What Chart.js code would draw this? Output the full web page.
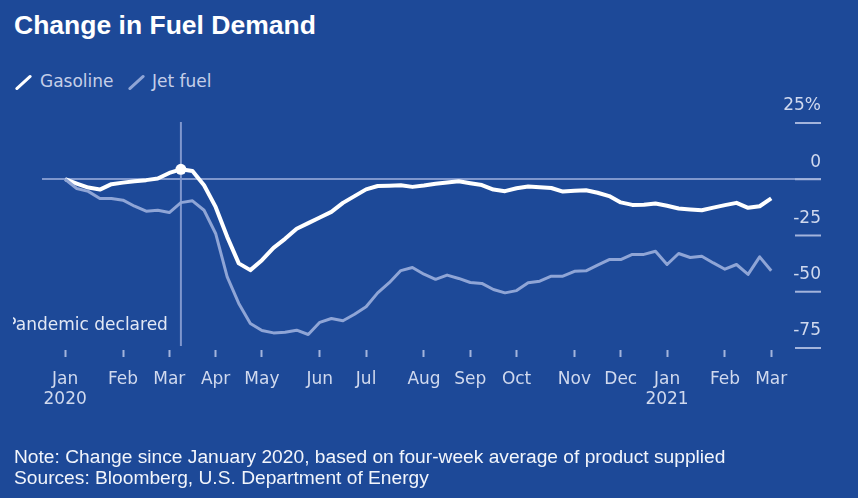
<!DOCTYPE html>
<html>
<head>
<meta charset="utf-8">
<script src="https://cdn.jsdelivr.net/npm/chart.js@4.4.0/dist/chart.umd.min.js"></script>
<style>
  body { margin: 0; width: 858px; height: 498px; overflow: hidden; position: relative; background: #1d4998; font-family: "DejaVu Sans", sans-serif; }
  #chart { position: absolute; left: 0; top: 0; }
  #title { position: absolute; left: 14px; top: 10px; font: bold 26.5px "Liberation Sans", Arial, sans-serif; color: #fff; white-space: nowrap; }
  .key { position: absolute; top: 72px; width: 3px; height: 21px; border-radius: 2px; transform: rotate(48deg); }
  .key-label { position: absolute; top: 71px; font-size: 17px; color: #c5cfe8; white-space: nowrap; }
  #notes { position: absolute; left: 14px; top: 446px; font: 19.2px "Liberation Sans", Arial, sans-serif; line-height: 21px; color: #f2f5fb; white-space: nowrap; }
</style>
</head>
<body>
<div id="title">Change in Fuel Demand</div>
<span class="key" style="left:22px;background:#ffffff"></span><span class="key-label" style="left:40px">Gasoline</span>
<span class="key" style="left:135px;background:#8fa5d6"></span><span class="key-label" style="left:152px">Jet fuel</span>
<canvas id="chart" width="858" height="498"></canvas>
<div id="notes">Note: Change since January 2020, based on four-week average of product supplied<br>Sources: Bloomberg, U.S. Department of Energy</div>
<script>
// weekly % change vs January 2020, first week of Jan 2020 through first week of Mar 2021
const gasoline = [
  0, -1.9, -3.7, -4.6, -2.2, -1.5, -0.9, -0.4, 0.3, 2.8,
  4.4, 3.7, -2.7, -12.3, -25.6, -37.4, -40.4, -36, -30.5, -26.5,
  -22, -19.5, -17, -14.5, -10.5, -7.5, -4.5, -3, -2.9, -2.7,
  -3.4, -2.8, -2, -1.5, -0.9, -1.8, -2.6, -4.6, -5.3, -4,
  -3.2, -3.6, -3.9, -5.5, -5.1, -4.9, -6, -7.5, -10.3, -11.4,
  -11.3, -10.8, -11.8, -13, -13.4, -13.8, -12.6, -11.5, -10.5, -12.7,
  -12, -8.5
];
const jetFuel = [
  0, -4.1, -5.4, -8.6, -8.6, -9.3, -12, -14.2, -13.8, -14.8,
  -10.4, -9.6, -13.8, -24.1, -43.4, -55.2, -64.1, -67.2, -68.3, -68,
  -67.1, -69, -63.6, -61.9, -62.9, -60, -56.7, -50.5, -46, -40.6,
  -39.2, -42.2, -44.5, -42.6, -44.1, -45.9, -46.3, -49, -50.5, -49.5,
  -46, -45.3, -43.1, -43.1, -40.9, -40.7, -38.2, -35.7, -35.7, -33.4,
  -33.4, -32, -37.9, -33, -34.8, -34.2, -37.2, -40, -37.9, -42.3,
  -34.5, -40.7
];

// week index of the first week in each month
const monthTicks = [0, 5, 9, 13, 17, 22, 26, 31, 35, 39, 44, 48, 52, 57, 61];
const monthLabels = ['Jan', 'Feb', 'Mar', 'Apr', 'May', 'Jun', 'Jul', 'Aug', 'Sep', 'Oct', 'Nov', 'Dec', 'Jan', 'Feb', 'Mar'];
const yearLabels = ['2020', '', '', '', '', '', '', '', '', '', '', '', '2021', '', ''];
const yTicks = [25, 0, -25, -50, -75];

const pandemicWeek = 10;
const pandemicLabel = 'Pandemic declared';

const TEXT = '#d0d9ee';
const JET = '#8fa5d6';
const RULE = '#7f97cd';
const TICK = '#a3b4dc';
const FONT = { family: 'DejaVu Sans', size: 17 };

const toPoints = arr => arr.map((v, i) => ({ x: i, y: v }));

const annotations = {
  id: 'annotations',
  beforeDatasetsDraw(chart) {
    const { ctx, chartArea, scales: { x, y } } = chart;
    ctx.save();
    ctx.lineWidth = 2;

    // short rules under the right-hand labels
    ctx.strokeStyle = TICK;
    yTicks.forEach(v => {
      const py = y.getPixelForValue(v);
      ctx.beginPath();
      ctx.moveTo(chartArea.right - 26, py);
      ctx.lineTo(chartArea.right, py);
      ctx.stroke();
    });

    // pandemic marker
    const px = x.getPixelForValue(pandemicWeek);
    ctx.strokeStyle = RULE;
    ctx.beginPath();
    ctx.moveTo(px, chartArea.top);
    ctx.lineTo(px, chartArea.bottom - 4);
    ctx.stroke();

    ctx.beginPath();
    ctx.rect(13, 0, chart.width, chart.height);
    ctx.clip();
    ctx.font = '17px "DejaVu Sans"';
    ctx.fillStyle = '#e2e8f5';
    ctx.textAlign = 'right';
    ctx.textBaseline = 'middle';
    ctx.fillText(pandemicLabel, px - 13, y.getPixelForValue(-65));
    ctx.restore();
  }
};

new Chart(document.getElementById('chart'), {
  type: 'line',
  data: {
    datasets: [
      {
        label: 'Jet fuel',
        data: toPoints(jetFuel),
        borderColor: JET,
        borderWidth: 3,
        pointRadius: 0,
        borderJoinStyle: 'round'
      },
      {
        label: 'Gasoline',
        data: toPoints(gasoline),
        borderColor: '#ffffff',
        borderWidth: 4,
        borderJoinStyle: 'round',
        pointRadius: ctx => ctx.dataIndex === pandemicWeek ? 5.5 : 0,
        pointBackgroundColor: '#ffffff',
        pointBorderWidth: 0
      }
    ]
  },
  options: {
    responsive: false,
    animation: false,
    layout: { padding: { left: 42, right: 37, top: 122, bottom: 0 } },
    plugins: {
      legend: { display: false },
      tooltip: { enabled: false }
    },
    scales: {
      x: {
        type: 'linear',
        min: -2,
        max: 65.3,
        afterBuildTicks: scale => { scale.ticks = monthTicks.map(v => ({ value: v })); },
        afterFit: scale => { scale.height = 148; },
        ticks: {
          autoSkip: false,
          maxRotation: 0,
          padding: 12,
          color: TEXT,
          font: FONT,
          callback: (value, i) => yearLabels[i] ? [monthLabels[i], yearLabels[i]] : monthLabels[i]
        },
        grid: { drawOnChartArea: false, drawTicks: true, tickLength: 7, tickWidth: 2, tickColor: TICK },
        border: { display: false }
      },
      y: {
        position: 'right',
        min: -75.9,
        max: 25.44,
        afterBuildTicks: scale => { scale.ticks = yTicks.map(v => ({ value: v })); },
        afterFit: scale => { scale.width = 0; },
        ticks: {
          mirror: true,
          padding: 0,
          labelOffset: -17,
          color: TEXT,
          font: FONT,
          callback: v => v === 25 ? '25%' : String(v)
        },
        grid: {
          drawTicks: false,
          lineWidth: 2,
          color: ctx => ctx.tick && ctx.tick.value === 0 ? RULE : 'transparent'
        },
        border: { display: false }
      }
    }
  },
  plugins: [annotations]
});
</script>
</body>
</html>
